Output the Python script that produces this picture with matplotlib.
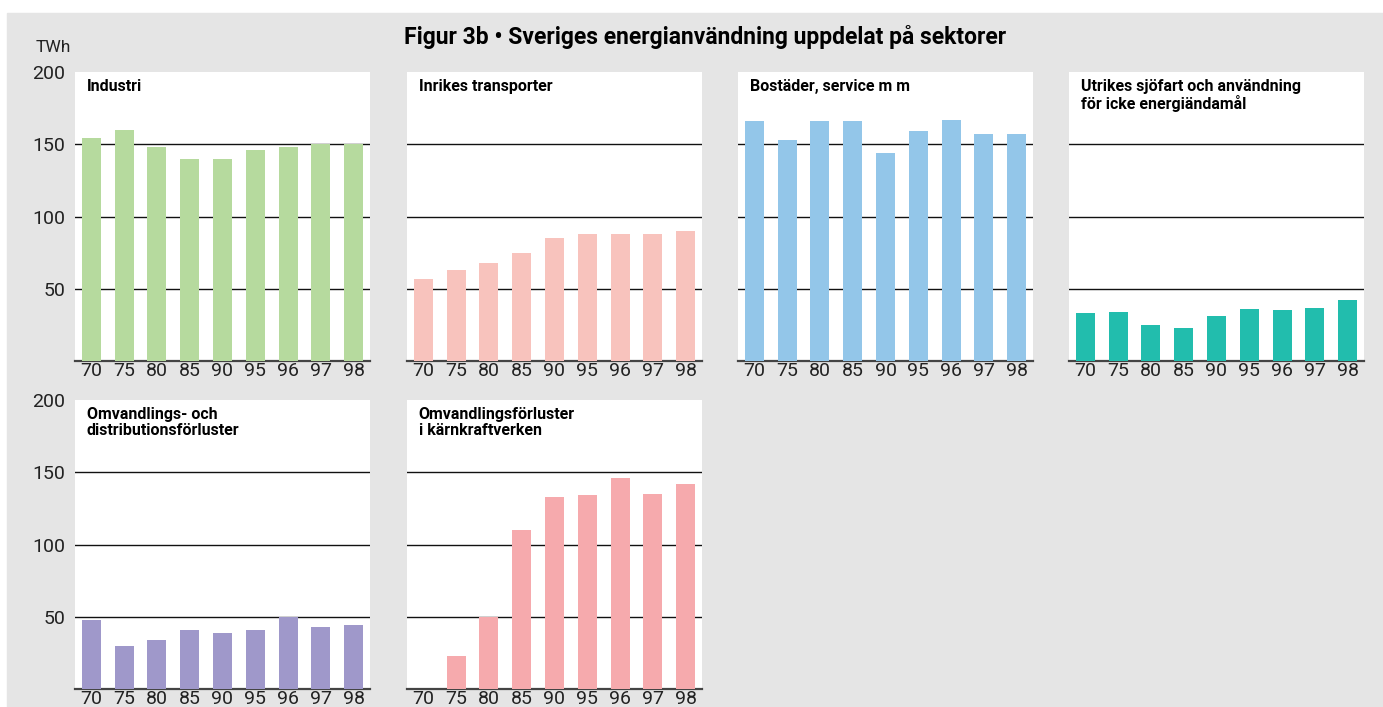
import matplotlib.pyplot as plt
import numpy as np

years = ["70", "75", "80", "85", "90", "95", "96", "97", "98"]

titles = [
    "Industri",
    "Inrikes transporter",
    "Bostäder, service m m",
    "Utrikes sjöfart och användning\nför icke energiändamål",
    "Omvandlings- och\ndistributionsförluster",
    "Omvandlingsförluster\ni kärnkraftverken",
]

industri = [154, 160, 148, 140, 140, 146, 148, 150, 150]
transport = [57, 63, 68, 75, 85, 88, 88, 88, 90]
bostader = [166, 153, 166, 166, 144, 159, 167, 157, 157]
utrikes = [33, 34, 25, 23, 31, 36, 35, 37, 42]
omvandling = [48, 30, 34, 41, 39, 41, 50, 43, 44]
karnkraft = [0, 23, 50, 110, 133, 134, 146, 135, 142]

series = [industri, transport, bostader, utrikes, omvandling, karnkraft]
colors = ["#b6da9e", "#f8c3bd", "#93c6e9", "#22bdad", "#9f98ca", "#f6aaad"]

BG = "#e5e5e5"
W, H = 1383, 707
FONT = ["Roboto", "DejaVu Sans"]

fig = plt.figure(figsize=(W / 100, H / 100), dpi=100, facecolor="white")
fig.patches.append(plt.Rectangle((7 / W, 0), 1 - 7 / W, 1 - 13 / H,
                                 transform=fig.transFigure, color=BG, zorder=-10))

col_x = [75, 407, 738, 1069]
row_top = [72, 400]
pw, ph = 295, 289

fig.text(705 / W, 1 - 37 / H, "Figur 3b • Sveriges energianvändning uppdelat på sektorer",
         ha="center", va="center", fontsize=16.5, fontweight="bold", family=FONT)
fig.text(36 / W, 1 - 47 / H, "TWh", ha="left", va="center", fontsize=12.5,
         color="#222222", family=FONT)

x = np.arange(len(years))
for i, (vals, title, color) in enumerate(zip(series, titles, colors)):
    r, c = divmod(i, 4)
    left = col_x[c] / W
    bottom = 1 - (row_top[r] + ph) / H
    ax = fig.add_axes([left, bottom, pw / W, ph / H])
    ax.set_facecolor("white")
    ax.bar(x, vals, width=0.58, color=color, zorder=3)
    ax.set_xlim(-0.5, len(years) - 0.5)
    ax.set_ylim(0, 200)
    for yv in (50, 100, 150):
        ax.axhline(yv, color="#111111", lw=1.0, zorder=1)
    for side in ("top", "right", "left"):
        ax.spines[side].set_visible(False)
    ax.spines["bottom"].set_color("#444444")
    ax.spines["bottom"].set_linewidth(1.6)
    ax.set_xticks(x)
    ax.set_xticklabels(years, fontsize=14, color="#222222", family=FONT)
    ax.tick_params(axis="x", length=0, pad=1)
    if c == 0:
        ax.set_yticks([50, 100, 150, 200])
        ax.set_yticklabels(["50", "100", "150", "200"], fontsize=14, color="#222222",
                           family=FONT)
        ax.tick_params(axis="y", length=0, pad=7)
    else:
        ax.set_yticks([])
    ax.text(0.04, 0.975, title, transform=ax.transAxes, ha="left", va="top",
            fontsize=11.5, fontweight="bold", linespacing=1.05, family=FONT)

fig.savefig("out.png", dpi=100, facecolor=fig.get_facecolor())
